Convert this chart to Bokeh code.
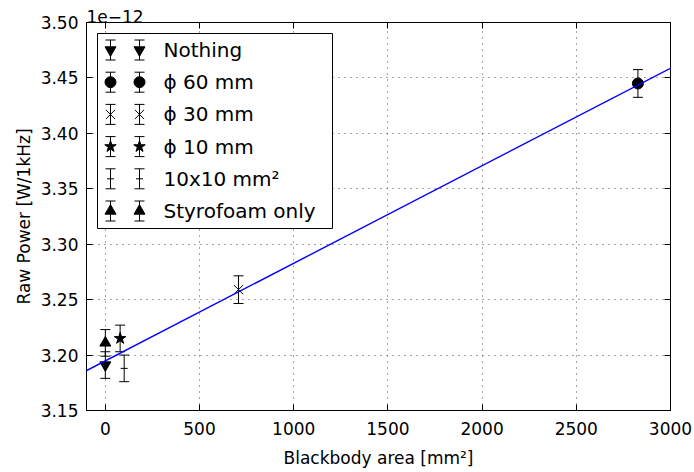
import numpy as np
from bokeh.plotting import figure
from bokeh.models import (ColumnDataSource, Whisker, TeeHead, LinearAxis, FixedTicker,
                          PrintfTickFormatter, Range1d, Slope, CustomJSTickFormatter)
from bokeh.core.properties import value
from bokeh.embed import file_html
from bokeh.resources import INLINE

# ---------------- data (power in units of 1e-12 W/1kHz) ----------------
series_labels = ["Nothing", "ϕ 60 mm", "ϕ 30 mm", "ϕ 10 mm", "10x10 mm²", "Styrofoam only"]
area_mm2 = [0.0, 2827.0, 707.0, 78.5, 100.0, 0.0]
raw_power = [3.191, 3.445, 3.259, 3.215, 3.188, 3.211]
power_err = [0.012, 0.0125, 0.0125, 0.012, 0.012, 0.012]
fit_slope = 8.8e-5
fit_intercept = 3.1948
x_ticks = [0, 500, 1000, 1500, 2000, 2500, 3000]
y_ticks = [3.15, 3.20, 3.25, 3.30, 3.35, 3.40, 3.45, 3.50]
x_lim = (-100, 3000)
y_lim = (3.15, 3.50)
offset_text = "1e−12"

# ---------------- styles ----------------
markers = ["inverted_triangle", "circle", "x", "star", "dash", "triangle"]
marker_sizes = [11, 11, 13, 12, 7, 11]
FONT = "DejaVu Sans"

W, H = 694, 472
BL, BR, BT, BB = 86, 24, 22, 62
FW, FH = W - BL - BR, H - BT - BB

p = figure(width=W, height=H, output_backend="svg", toolbar_location=None,
           x_range=Range1d(*x_lim), y_range=Range1d(*y_lim),
           min_border_left=BL, min_border_right=BR, min_border_top=BT, min_border_bottom=BB,
           x_axis_label="Blackbody area [mm²]", y_axis_label="Raw Power [W/1kHz]")
p.background_fill_color = "white"
p.border_fill_color = "white"
p.outline_line_color = "black"
p.outline_line_width = 1

# offset text drawn as a left-aligned title
p.title.text = offset_text
p.title.align = "left"
p.title.text_font = FONT
p.title.text_font_size = "17px"
p.title.text_font_style = "normal"
p.title.text_color = "black"
p.title.standoff = 0
p.title.offset = 0

# axes
for ax in (p.xaxis[0], p.yaxis[0]):
    ax.axis_line_color = "black"
    ax.major_tick_in = 6
    ax.major_tick_out = 0
    ax.minor_tick_line_color = None
    ax.major_label_text_font = FONT
    ax.major_label_text_font_size = "17px"
    ax.major_label_text_color = "black"
    ax.axis_label_text_font = FONT
    ax.axis_label_text_font_size = "17px"
    ax.axis_label_text_font_style = "normal"
    ax.axis_label_text_color = "black"
p.xaxis[0].ticker = FixedTicker(ticks=x_ticks)
p.yaxis[0].ticker = FixedTicker(ticks=y_ticks)
p.yaxis[0].formatter = PrintfTickFormatter(format="%.2f")
p.xaxis[0].major_label_standoff = 11
p.yaxis[0].major_label_standoff = 8
p.xaxis[0].axis_label_standoff = 10
p.yaxis[0].axis_label_standoff = 4

blank = CustomJSTickFormatter(code="return ''")
for loc, tk in (("above", x_ticks), ("right", y_ticks)):
    a = LinearAxis(ticker=FixedTicker(ticks=tk), major_tick_in=6, major_tick_out=0,
                   minor_tick_line_color=None, formatter=blank,
                   major_label_standoff=0, axis_line_color="black")
    p.add_layout(a, loc)

# grid
p.xgrid[0].ticker = FixedTicker(ticks=x_ticks)
p.ygrid[0].ticker = FixedTicker(ticks=y_ticks)
for g in (p.xgrid[0], p.ygrid[0]):
    g.grid_line_color = "#222222"
    g.grid_line_width = 1
    g.grid_line_dash = "1 5"
    g.grid_line_alpha = 0.8

# ---------------- data marks ----------------
for i in range(len(series_labels)):
    src = ColumnDataSource(dict(x=[area_mm2[i]], y=[raw_power[i]],
                                lo=[raw_power[i] - power_err[i]], hi=[raw_power[i] + power_err[i]]))
    w = Whisker(base="x", lower="lo", upper="hi", dimension="height", source=src,
                line_color="black", line_width=1,
                upper_head=TeeHead(size=10, line_color="black", line_width=1),
                lower_head=TeeHead(size=10, line_color="black", line_width=1))
    p.add_layout(w)
    p.scatter("x", "y", source=src, marker=markers[i], size=marker_sizes[i],
              fill_color="black", line_color="black", line_width=1)

# fit line
p.add_layout(Slope(gradient=fit_slope, y_intercept=fit_intercept,
                   line_color="#0000ff", line_width=1.4))

# ---------------- legend (drawn manually, matplotlib style) ----------------
sx = (x_lim[1] - x_lim[0]) / FW
sy = (y_lim[1] - y_lim[0]) / FH
def px_x(px):
    return x_lim[0] + px * sx
def px_y(px_from_top):
    return y_lim[1] - px_from_top * sy

box_l, box_r, box_t, box_b = 11, 246, 11, 206
p.quad(left=[px_x(box_l)], right=[px_x(box_r)], top=[px_y(box_t)], bottom=[px_y(box_b)],
       fill_color="white", line_color="black", line_width=1)

row0, row_step = 27.5, 32.2
mk_x = [24, 53]
txt_x = 77
for i, lab in enumerate(series_labels):
    yc = px_y(row0 + row_step * i)
    xs = [px_x(mk_x[0]), px_x(mk_x[1])]
    src = ColumnDataSource(dict(x=xs, y=[yc, yc], lo=[yc - 10 * sy] * 2, hi=[yc + 10 * sy] * 2))
    p.add_layout(Whisker(base="x", lower="lo", upper="hi", dimension="height", source=src,
                         line_color="black", line_width=1, level="overlay",
                         upper_head=TeeHead(size=10, line_color="black", line_width=1),
                         lower_head=TeeHead(size=10, line_color="black", line_width=1)))
    p.scatter("x", "y", source=src, marker=markers[i], size=marker_sizes[i],
              fill_color="black", line_color="black", line_width=1)
    p.text(x=[px_x(txt_x)], y=[yc], text=[lab], text_font=value(FONT),
           text_font_size=value("20px"), text_baseline="middle", text_align="left",
           text_color="black")

open("out.html", "w").write(file_html(p, INLINE))
